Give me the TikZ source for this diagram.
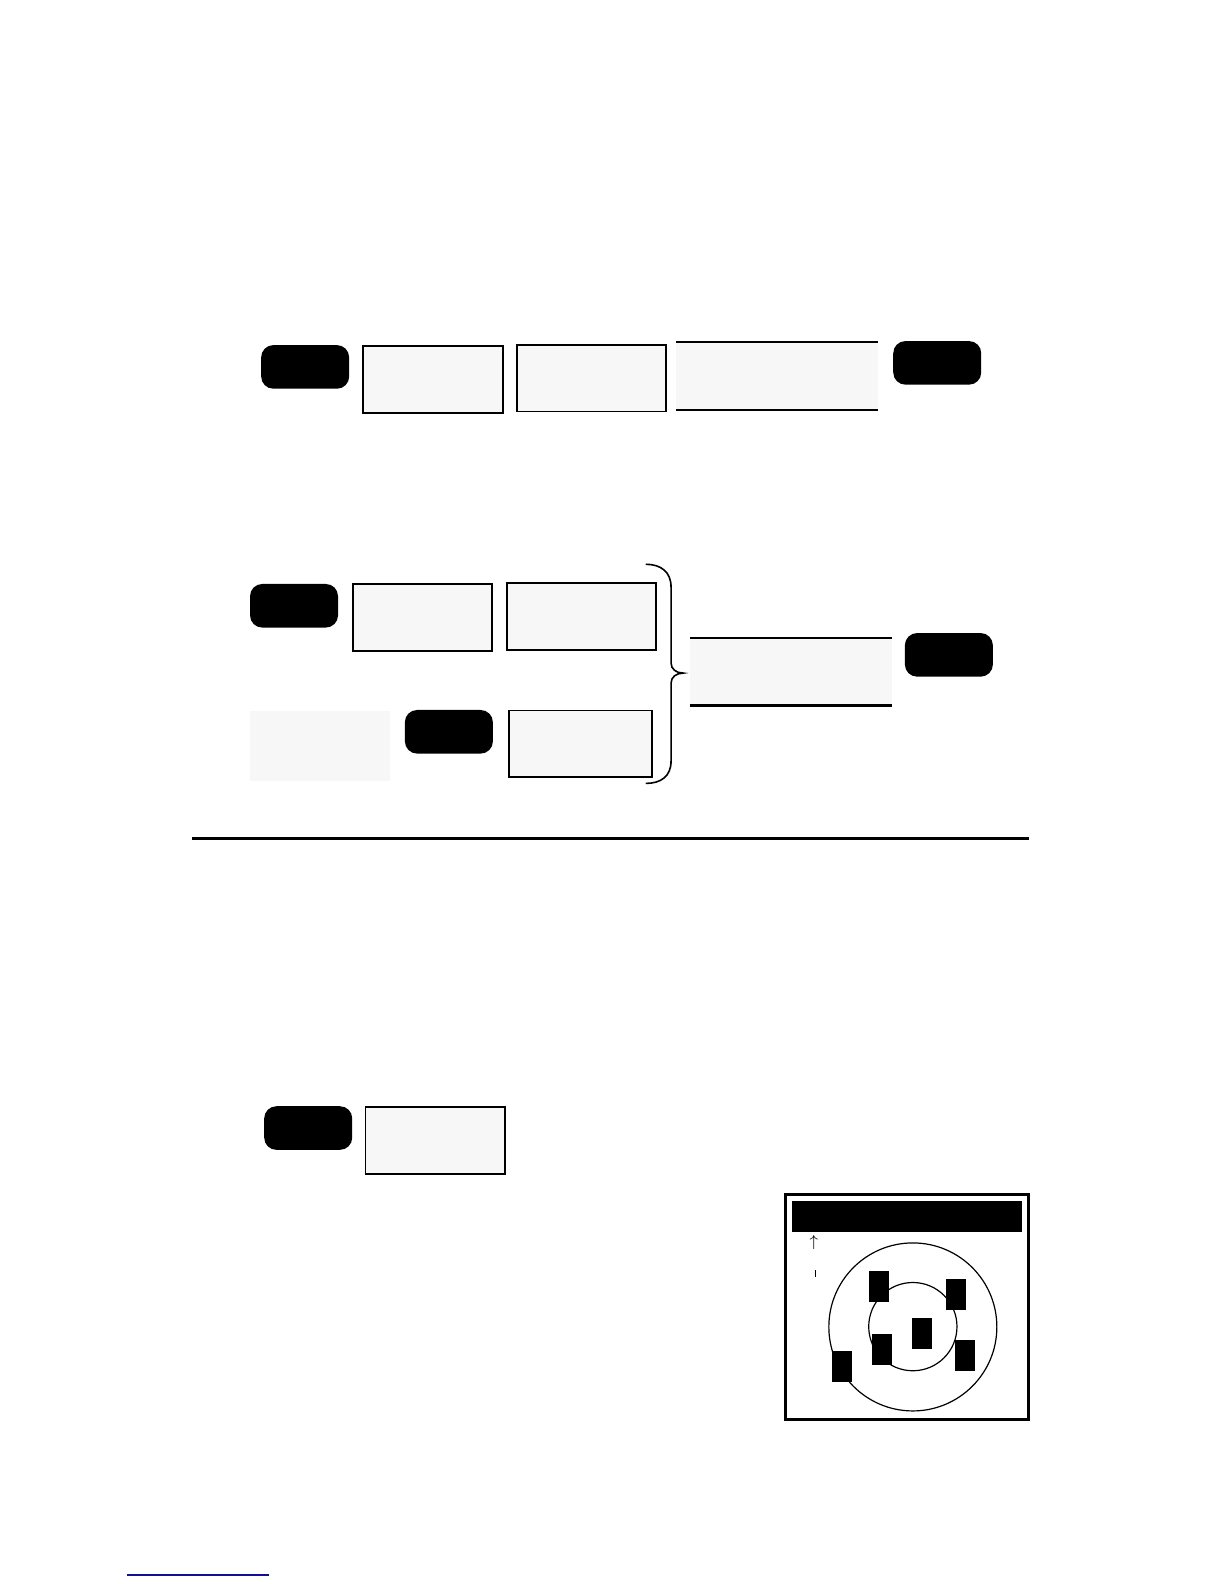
\documentclass[tikz,border=0pt]{standalone}
\usepackage{tikz}
\usepackage{xcolor}
\definecolor{boxgray}{RGB}{247,247,247}
\definecolor{linkblue}{RGB}{16,16,150}

\begin{document}
\begin{tikzpicture}[x=0.50607pt,y=-0.50607pt]
\tikzstyle{every node}+=[inner sep=0pt, outer sep=0pt]
\tikzstyle{key}=[fill=black, rounded corners=6.1pt, minimum width=44pt, minimum height=21.8pt]
\tikzstyle{field}=[draw=black, line width=0.9pt, fill=boxgray, minimum width=69.8pt, minimum height=33.4pt]
\tikzstyle{band}=[fill=boxgray, minimum width=100.7pt, minimum height=33.9pt]
\tikzstyle{blip}=[fill=black, minimum width=9.9pt, minimum height=15.5pt]
\useasboundingbox (0,0) rectangle (1209.3,1565);
% first row
\node [key] (keyA) at (301.5,362.5) {};
\node [field] (fieldB) at (428,375) {};
\node [field, minimum width=74.4pt] (fieldC) at (584.5,373.5) {};
\node [band] (bandD) at (767.5,371.5) {};
\draw [line width=0.9pt] (bandD.north west) -- (bandD.north east);
\draw [line width=0.9pt] (bandD.south west) -- (bandD.south east);
\node [key] (keyE) at (926,358.5) {};
% second row
\node [key] (keyF) at (290.5,598.5) {};
\node [field] (fieldG) at (417.5,610) {};
\node [field, minimum width=74.4pt] (fieldH) at (574.5,609) {};
\node [band] (bandI) at (781.5,663.5) {};
\draw [line width=0.9pt] (bandI.north west) -- (bandI.north east);
\draw [line width=1.3pt] (bandI.south west) -- (bandI.south east);
\node [key] (keyJ) at (937.5,647) {};
\node [fill=boxgray, minimum width=69.8pt, minimum height=35.4pt] (plainK) at (316,737) {};
\node [key] (keyL) at (443.5,723) {};
\node [field, minimum width=71.3pt] (fieldM) at (573.5,735) {};
\coordinate (braceTop) at (638,557.5);
\coordinate (braceTip) at (675,665);
\coordinate (braceBot) at (638,774);
\draw [line width=0.8pt] (braceTop) .. controls (653,557.5) and (663,565) .. (663,580) -- (663,655)
  .. controls (663,661) and (668,665) .. (braceTip)
  .. controls (668,665) and (663,669) .. (663,675) -- (663,752)
  .. controls (663,767) and (653,774) .. (braceBot);
% rule
\coordinate (ruleL) at (190,828);
\coordinate (ruleR) at (1017,828);
\draw [line width=1.5pt] (ruleL) -- (ruleR);
% third row
\node [key] (keyN) at (304.5,1114.5) {};
\node [field] (fieldO) at (430,1127) {};
% inset
\node [draw=black, line width=1.5pt, minimum width=121.4pt, minimum height=112.8pt] (frame) at (896,1291.5) {};
\node [fill=black, minimum width=114.9pt, minimum height=15.7pt] (bar) at (896.3,1202) {};
\node (arrow) at (804,1228) {\footnotesize$\uparrow$};
\coordinate (tickT) at (806,1255);
\coordinate (tickB) at (806,1261.5);
\draw [line width=0.5pt] (tickT) -- (tickB);
\draw [line width=0.6pt] (901.9,1311) circle (83);
\draw [line width=0.6pt] (901.9,1310.7) circle (43.6);
\node [blip] (blip1) at (868.3,1271.5) {};
\node [blip] (blip2) at (944.8,1279) {};
\node [blip] (blip3) at (910.7,1317.3) {};
\node [blip] (blip4) at (871.3,1333.6) {};
\node [blip] (blip5) at (953.7,1339.5) {};
\node [blip] (blip6) at (832.2,1350.5) {};
% footer
\coordinate (footL) at (125.5,1556);
\coordinate (footR) at (265.8,1556);
\draw [linkblue, line width=0.8pt] (footL) -- (footR);
\end{tikzpicture}
\end{document}
